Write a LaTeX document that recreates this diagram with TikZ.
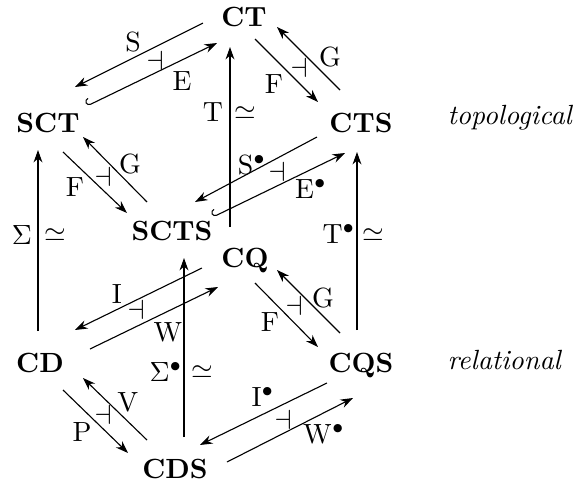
\documentclass[tikz,border=0pt]{standalone}
\usepackage{amsmath, amssymb}
\usetikzlibrary{arrows.meta}

\begin{document}
\begin{tikzpicture}[x=0.36pt, y=-0.36pt,
  obj/.style={anchor=base, inner sep=0pt, font=\bfseries},
  arr/.style={-{Stealth[length=4.5pt, width=3.2pt]}},
  inc/.style={{Hooks[right, length=1.5pt, width=5pt]}-{Stealth[length=4.5pt, width=3.2pt]}},
  lab/.style={inner sep=0pt}]
\useasboundingbox (0,0) rectangle (576,485);

% Objects
\foreach \n/\x/\y in {CT/244/26, SCT/48/132, CTS/361/132, SCTS/172/240,
  CQ/245/267, CD/40/372, CQS/361/372, CDS/175/478}
  \node[obj] (\n) at (\x,\y) {\n};

% Row labels
\node[anchor=base west, inner sep=0pt, font=\itshape] (topo) at (447,124) {topological};
\node[anchor=base west, inner sep=0pt, font=\itshape] (rel) at (447,369) {relational};

% Arrows (offsets from the base of each object)
\foreach \a/\ax/\ay/\b/\bx/\by in {
  CT/-41/-3/SCT/27/-45,
  CT/11/13/CTS/-43/-30,
  CTS/-21/-42/CT/33/1,
  SCT/15/20/SCTS/-45/-27,
  SCTS/-25/-38/SCT/35/5,
  CTS/-44/5/SCTS/23/-38,
  CQ/-15/-40/CT/-14/21,
  CD/-2/-41/SCT/-10/18,
  CQS/-4/-42/CTS/-4/20,
  CDS/9/-41/SCTS/12/18,
  CQ/-43/1/CD/35/-42,
  CD/50/-23/CQ/-27/20,
  CQ/10/16/CQS/-43/-25,
  CQS/-21/-39/CQ/32/3,
  CD/23/18/CDS/-47/-25,
  CDS/-28/-38/CD/43/6,
  CQS/-34/11/CDS/25/-33,
  CDS/52/-16/CQS/-8/26%
} {
  \draw[arr] ([shift={(\ax,\ay)}]\a.base) -- ([shift={(\bx,\by)}]\b.base);
}

% Inclusions
\draw[inc] ([shift={(39,-26)}]SCT.base) -- ([shift={(-27,17)}]CT.base);
\draw[inc] ([shift={(41,-23)}]SCTS.base) -- ([shift={(-16,21)}]CTS.base);

% Arrow labels
\foreach \i/\x/\y/\t in {
  1/133/42/{\mathrm{S}}, 2/182/81/{\mathrm{E}}, 3/155/61/{\dashv},
  4/274/84/{\mathrm{F}}, 5/330/57/{\mathrm{G}}, 6/299/68/{\dashv},
  7/75/187/{\mathrm{F}}, 8/130/164/{\mathrm{G}}, 9/103/177/{\dashv},
  10/252/165/{\mathrm{S}^\bullet}, 11/311/189/{\mathrm{E}^\bullet}, 12/277/172/{\dashv},
  13/213/112/{\mathrm{T}}, 14/245/113/{\simeq},
  15/22/235/{\Sigma}, 16/55/235/{\simeq},
  17/339/234/{\mathrm{T}^\bullet}, 18/373/235/{\simeq},
  19/166/372/{\Sigma^\bullet}, 20/202/372/{\simeq},
  21/117/294/{\mathrm{I}}, 22/168/332/{\mathrm{W}}, 23/136/310/{\dashv},
  24/270/322/{\mathrm{F}}, 25/323/298/{\mathrm{G}}, 26/294/306/{\dashv},
  27/82/432/{\mathrm{P}}, 28/128/402/{\mathrm{V}}, 29/103/415/{\dashv},
  30/263/397/{\mathrm{I}^\bullet}, 31/324/434/{\mathrm{W}^\bullet}, 32/283/420/{\dashv}%
} {
  \node[lab] (l\i) at (\x,\y) {$\t$};
}

\end{tikzpicture}
\end{document}
